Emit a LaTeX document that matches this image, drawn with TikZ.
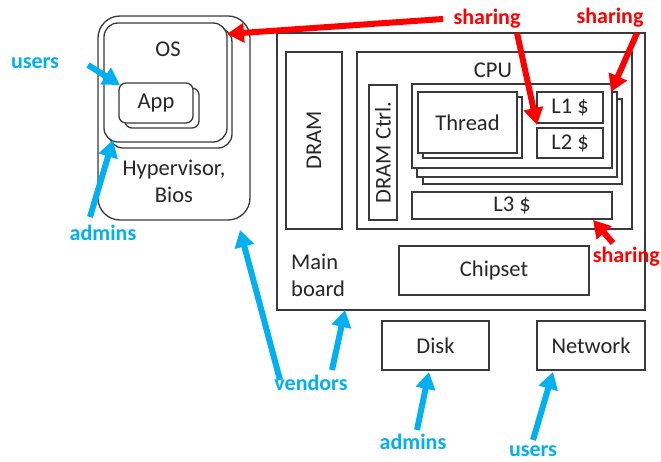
\documentclass[tikz,border=0pt]{standalone}
\usepackage{fontspec}
\setmainfont{Carlito}
\usetikzlibrary{arrows.meta}
\definecolor{cblue}{HTML}{00B0F0}
\definecolor{cred}{HTML}{FF0000}
\definecolor{edge}{HTML}{3A3A3A}
\begin{document}
\begin{tikzpicture}[x=1pt,y=-1pt,
  box/.style={draw=edge, line width=1.3pt, fill=white, inner sep=0pt,
    text=black!85, font=\fontsize{22.5}{27}\selectfont},
  rbox/.style={box, rounded corners=#1},
  plain/.style={inner sep=0pt, text=black!85, font=\fontsize{22.5}{27}\selectfont},
  who/.style={inner sep=0pt, text=cblue, font=\bfseries\fontsize{22}{24}\selectfont},
  share/.style={inner sep=0pt, text=cred, font=\bfseries\fontsize{22}{24}\selectfont},
  blue arrow/.style={draw=cblue, line width=6pt, -{Triangle[length=17pt,width=19pt]}},
  red arrow/.style={draw=cred, line width=6pt, -{Triangle[length=17pt,width=19pt]}}
]
\useasboundingbox (0,0) rectangle (661,462);

% --- software stack ---
\node[rbox=22pt, minimum width=152pt, minimum height=204pt] (hyp) at (174,118) {};
\node[rbox=14pt, minimum width=123pt, minimum height=120pt] (osb) at (170.5,88) {};
\node[rbox=14pt, minimum width=123pt, minimum height=119pt] (os) at (165.5,82.5) {};
\node[plain] (ostxt) at (168,49) {OS};
\node[rbox=7pt, minimum width=74pt, minimum height=40pt] (appb) at (162,108) {};
\node[rbox=7pt, minimum width=74pt, minimum height=40pt] (app) at (156,103) {App};
\node[plain, align=center] (hyptxt) at (174,181) {Hypervisor,\\Bios};

% --- main board ---
\node[box, minimum width=368pt, minimum height=277pt] (mb) at (461,171.5) {};
\node[plain, align=left, anchor=west] (mbtxt) at (291,275.5) {Main\\board};
\node[box, minimum width=56pt, minimum height=177pt] (dram) at (314,140.5) {};
\node[plain, rotate=90] (dramtxt) at (314,140.5) {DRAM};
\node[box, minimum width=275pt, minimum height=177pt] (cpu) at (494.5,140.5) {};
\node[plain] (cputxt) at (493,70) {CPU};
\node[box, minimum width=28pt, minimum height=135pt] (ctrl) at (383,152.5) {};
\node[plain, rotate=90] (ctrltxt) at (383,152.5) {DRAM Ctrl.};

% stacked cores
\node[box, minimum width=199pt, minimum height=85pt] (core3) at (522.5,141.5) {};
\node[box, minimum width=200pt, minimum height=85pt] (core2) at (517,134.5) {};
\node[box, minimum width=200pt, minimum height=84pt] (core) at (512,126) {};
\node[box, minimum width=99pt, minimum height=61pt] (thrb) at (472.5,127.5) {};
\node[box, minimum width=99pt, minimum height=61pt] (thr) at (467.5,122.5) {Thread};
\node[box, minimum width=66pt, minimum height=31pt] (l1) at (570,107.5) {L1 \$};
\node[box, minimum width=66pt, minimum height=30pt] (l2) at (570,143) {L2 \$};
\node[box, minimum width=200pt, minimum height=27pt] (l3) at (512,205.5) {L3 \$};
\node[box, minimum width=190pt, minimum height=49pt] (chip) at (494,270.5) {Chipset};

% --- peripherals ---
\node[box, minimum width=107pt, minimum height=49pt] (disk) at (435.5,345.5) {Disk};
\node[box, minimum width=108pt, minimum height=49pt] (net) at (591,345.5) {Network};

% --- labels ---
\node[who] (users1) at (35,63) {users};
\node[who] (admins1) at (103,233) {admins};
\node[who] (vendors) at (311,383) {vendors};
\node[who] (admins2) at (413,442) {admins};
\node[who] (users2) at (533,451) {users};
\node[share] (sh1) at (487,19) {sharing};
\node[share] (sh2) at (610,18) {sharing};
\node[share, anchor=east] (sh3) at (660,257) {sharing};

% --- arrow ends ---
\coordinate (u1a) at (88,65);   \coordinate (u1b) at (120,85);
\coordinate (a1a) at (90,217);  \coordinate (a1b) at (113,140);
\coordinate (v1a) at (280,380); \coordinate (v1b) at (240,230);
\coordinate (v2a) at (332,370); \coordinate (v2b) at (345,310);
\coordinate (a2a) at (417,430); \coordinate (a2b) at (429,372);
\coordinate (u2a) at (533,440); \coordinate (u2b) at (553,372);
\coordinate (s1a) at (443,19);  \coordinate (s1b) at (227,34);
\coordinate (s2a) at (517,33);  \coordinate (s2b) at (537,125);
\coordinate (s3a) at (637,33);  \coordinate (s3b) at (611,92);
\coordinate (s4a) at (613,243); \coordinate (s4b) at (593,220);

\draw[blue arrow] (u1a) -- (u1b);
\draw[blue arrow] (a1a) -- (a1b);
\draw[blue arrow] (v1a) -- (v1b);
\draw[blue arrow] (v2a) -- (v2b);
\draw[blue arrow] (a2a) -- (a2b);
\draw[blue arrow] (u2a) -- (u2b);
\draw[red arrow] (s1a) -- (s1b);
\draw[red arrow] (s2a) -- (s2b);
\draw[red arrow] (s3a) -- (s3b);
\draw[red arrow] (s4a) -- (s4b);
\end{tikzpicture}
\end{document}
